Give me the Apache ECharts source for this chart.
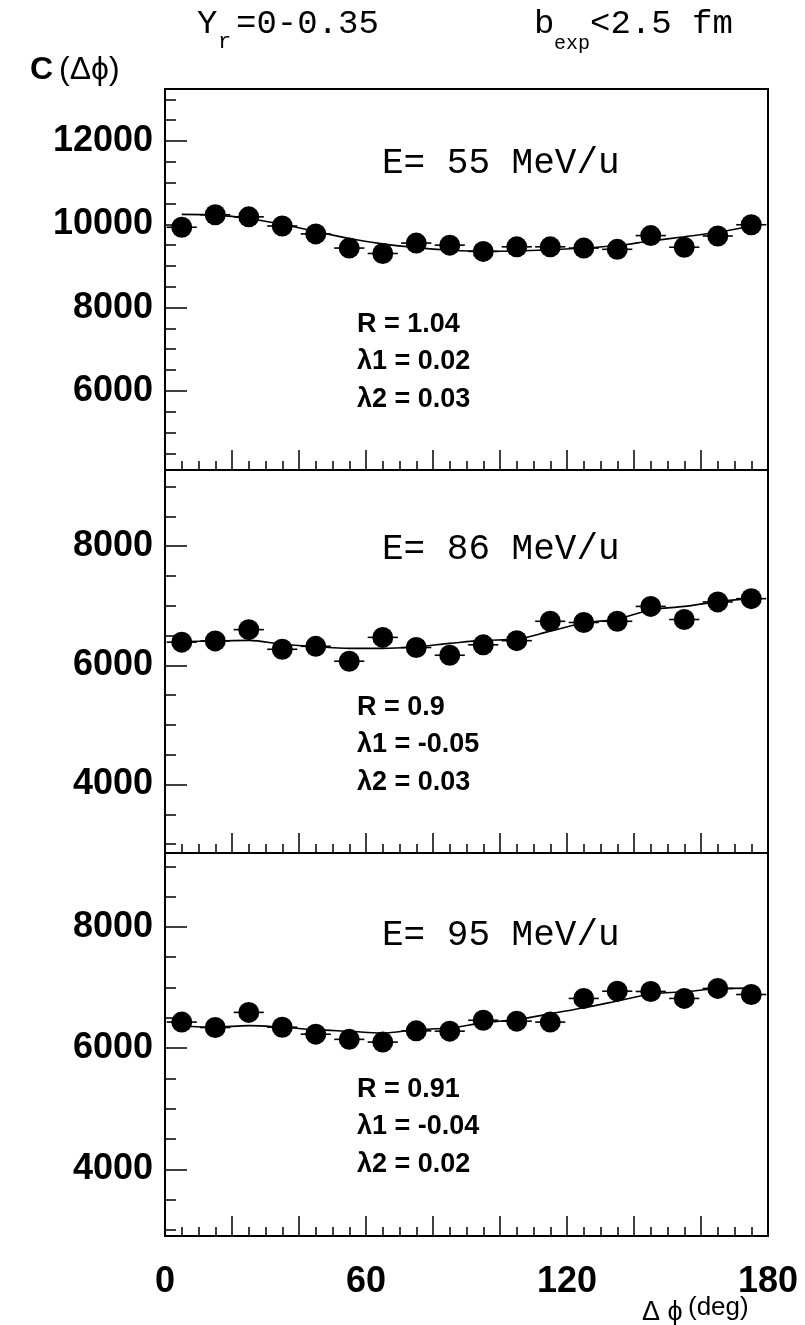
<!DOCTYPE html>
<html>
<head>
<meta charset="utf-8">
<script src="https://cdn.jsdelivr.net/npm/echarts@6/dist/echarts.min.js"></script>
<style>html,body{margin:0;padding:0;background:#fff}#c{width:805px;height:1325px}</style>
</head>
<body>
<div id="c"></div>
<script>
// ---- data ----
const angles = [5,15,25,35,45,55,65,75,85,95,105,115,125,135,145,155,165,175];
const c55 = [9930,10230,10180,9960,9770,9430,9300,9550,9500,9350,9460,9460,9430,9400,9730,9450,9720,9990];
const fit55 = [10240,10220,10140,10000,9830,9660,9530,9440,9380,9350,9360,9390,9430,9490,9600,9700,9810,9960];
const c86 = [6390,6410,6600,6270,6320,6070,6470,6300,6170,6345,6415,6740,6720,6740,6990,6770,7065,7120];
const fit86 = [6400,6410,6420,6355,6315,6285,6285,6315,6370,6420,6440,6575,6710,6780,6930,6990,7070,7125];
const c95 = [6430,6340,6590,6345,6230,6145,6100,6285,6280,6460,6445,6430,6820,6940,6935,6820,6985,6885];
const fit95 = [6370,6345,6372,6345,6305,6278,6250,6305,6333,6417,6472,6567,6667,6778,6890,6930,6980,6990];
const xErr = 4.5;
const xLabelVals = [0,60,120,180];
const yLabels1 = [6000,8000,10000,12000];
const yLabels2 = [4000,6000,8000];
const yLabels3 = [4000,6000,8000];
const panelTitles = ['E= 55 MeV/u','E= 86 MeV/u','E= 95 MeV/u'];
const panelStats = [['R = 1.04','\u03bb1 = 0.02','\u03bb2 = 0.03'],['R = 0.9','\u03bb1 = -0.05','\u03bb2 = 0.03'],['R = 0.91','\u03bb1 = -0.04','\u03bb2 = 0.02']];

// ---- layout ----
const panels = [
  {top:89, height:381, min:4100, max:13250, labels:yLabels1, pts:c55, fit:fit55},
  {top:470, height:383, min:2850, max:9280, labels:yLabels2, pts:c86, fit:fit86},
  {top:853, height:383, min:2900, max:9220, labels:yLabels3, pts:c95, fit:fit95}
];
const range = (a,b,s)=>{const r=[];for(let v=a;v<=b+1e-9;v+=s)r.push(v);return r;};
const plain = v => String(v);

const grid=[],xAxis=[],yAxis=[],series=[];
panels.forEach((p,i)=>{
  grid.push({left:165,right:37,top:p.top,height:p.height,show:true,borderColor:'#000',borderWidth:2,backgroundColor:'transparent'});
  const last = i===2;
  xAxis.push({gridIndex:i,type:'value',min:0,max:180,position:'bottom',
    axisLine:{show:true,lineStyle:{color:'#000',width:2}},
    axisTick:{show:true,inside:true,length:9,customValues:range(5,175,5),lineStyle:{color:'#000',width:1.5}},
    axisLabel:{show:false},splitLine:{show:false}});
  xAxis.push({gridIndex:i,type:'value',min:0,max:180,position:'bottom',
    axisLine:{show:false},
    axisTick:{show:true,inside:true,length:20,customValues:range(20,160,20),lineStyle:{color:'#000',width:1.5}},
    axisLabel:{show:last,customValues:xLabelVals,formatter:plain,margin:28,color:'#000',fontSize:36,fontWeight:'bold',fontFamily:'"Liberation Sans", Arial, sans-serif'},
    splitLine:{show:false}});
  yAxis.push({gridIndex:i,type:'value',min:p.min,max:p.max,position:'left',
    axisLine:{show:true,lineStyle:{color:'#000',width:2}},
    axisTick:{show:true,inside:true,length:22,customValues:p.labels,lineStyle:{color:'#000',width:1.5}},
    axisLabel:{show:true,customValues:p.labels,formatter:plain,margin:12,color:'#000',fontSize:36,fontWeight:'bold',fontFamily:'"Liberation Sans", Arial, sans-serif'},
    splitLine:{show:false}});
  yAxis.push({gridIndex:i,type:'value',min:p.min,max:p.max,position:'left',offset:0,
    axisLine:{show:false},
    axisTick:{show:true,inside:true,length:11,customValues:range(Math.ceil(p.min/500)*500,Math.floor(p.max/500)*500,500),lineStyle:{color:'#000',width:1.5}},
    axisLabel:{show:false},splitLine:{show:false}});

  const xi=2*i, yi=2*i;
  series.push({type:'line',xAxisIndex:xi,yAxisIndex:yi,data:angles.map((a,k)=>[a,p.fit[k]]),
    smooth:0.35,showSymbol:false,symbol:'none',lineStyle:{color:'#000',width:1.6},z:2,silent:true});
  series.push({type:'custom',xAxisIndex:xi,yAxisIndex:yi,data:angles.map((a,k)=>[a,p.pts[k]]),z:3,silent:true,
    renderItem:(params,api)=>{
      const a=api.value(0),v=api.value(1);
      const p1=api.coord([a-xErr,v]),p2=api.coord([a+xErr,v]);
      return {type:'line',shape:{x1:p1[0],y1:p1[1],x2:p2[0],y2:p2[1]},style:{stroke:'#000',lineWidth:1.6}};
    }});
  series.push({type:'scatter',xAxisIndex:xi,yAxisIndex:yi,data:angles.map((a,k)=>[a,p.pts[k]]),
    symbol:'circle',symbolSize:21,itemStyle:{color:'#000',opacity:1},z:4,silent:true});
});

// ---- texts ----
const mono = '"Liberation Mono", "Courier New", monospace';
const sans = '"Liberation Sans", Arial, sans-serif';
const graphic = [];
function txt(x,y,text,font,align){graphic.push({type:'text',x:x,y:y,z:10,style:{text:text,font:font,fill:'#000',textAlign:align||'left',textVerticalAlign:'middle'}});}
txt(197,24,'Y','34px '+mono);
txt(218,42,'r','22px '+mono);
txt(236,24,'=0-0.35','34px '+mono);
txt(534,24,'b','34px '+mono);
txt(554,44,'exp','20px '+mono);
txt(590,24,'<2.5 fm','34px '+mono);
txt(30,70,'C','bold 32px '+sans);
txt(59,70,'(\u0394\u03d5)','32px '+sans);
txt(642,1313,'\u0394 \u03d5','27px '+sans);
txt(688,1308,'(deg)','26px '+sans);
const titleY=[163,549,935];
const statsY=[[325,362,400],[708,745,783],[1090,1127,1165]];
for(let i=0;i<3;i++){
  txt(382,titleY[i],panelTitles[i],'36px '+mono);
  for(let j=0;j<3;j++) txt(357,statsY[i][j],panelStats[i][j],'bold 27px '+sans);
}

const chart = echarts.init(document.getElementById('c'),null,{renderer:'canvas'});
chart.setOption({animation:false,backgroundColor:'#fff',grid,xAxis,yAxis,series,graphic});
</script>
</body>
</html>
